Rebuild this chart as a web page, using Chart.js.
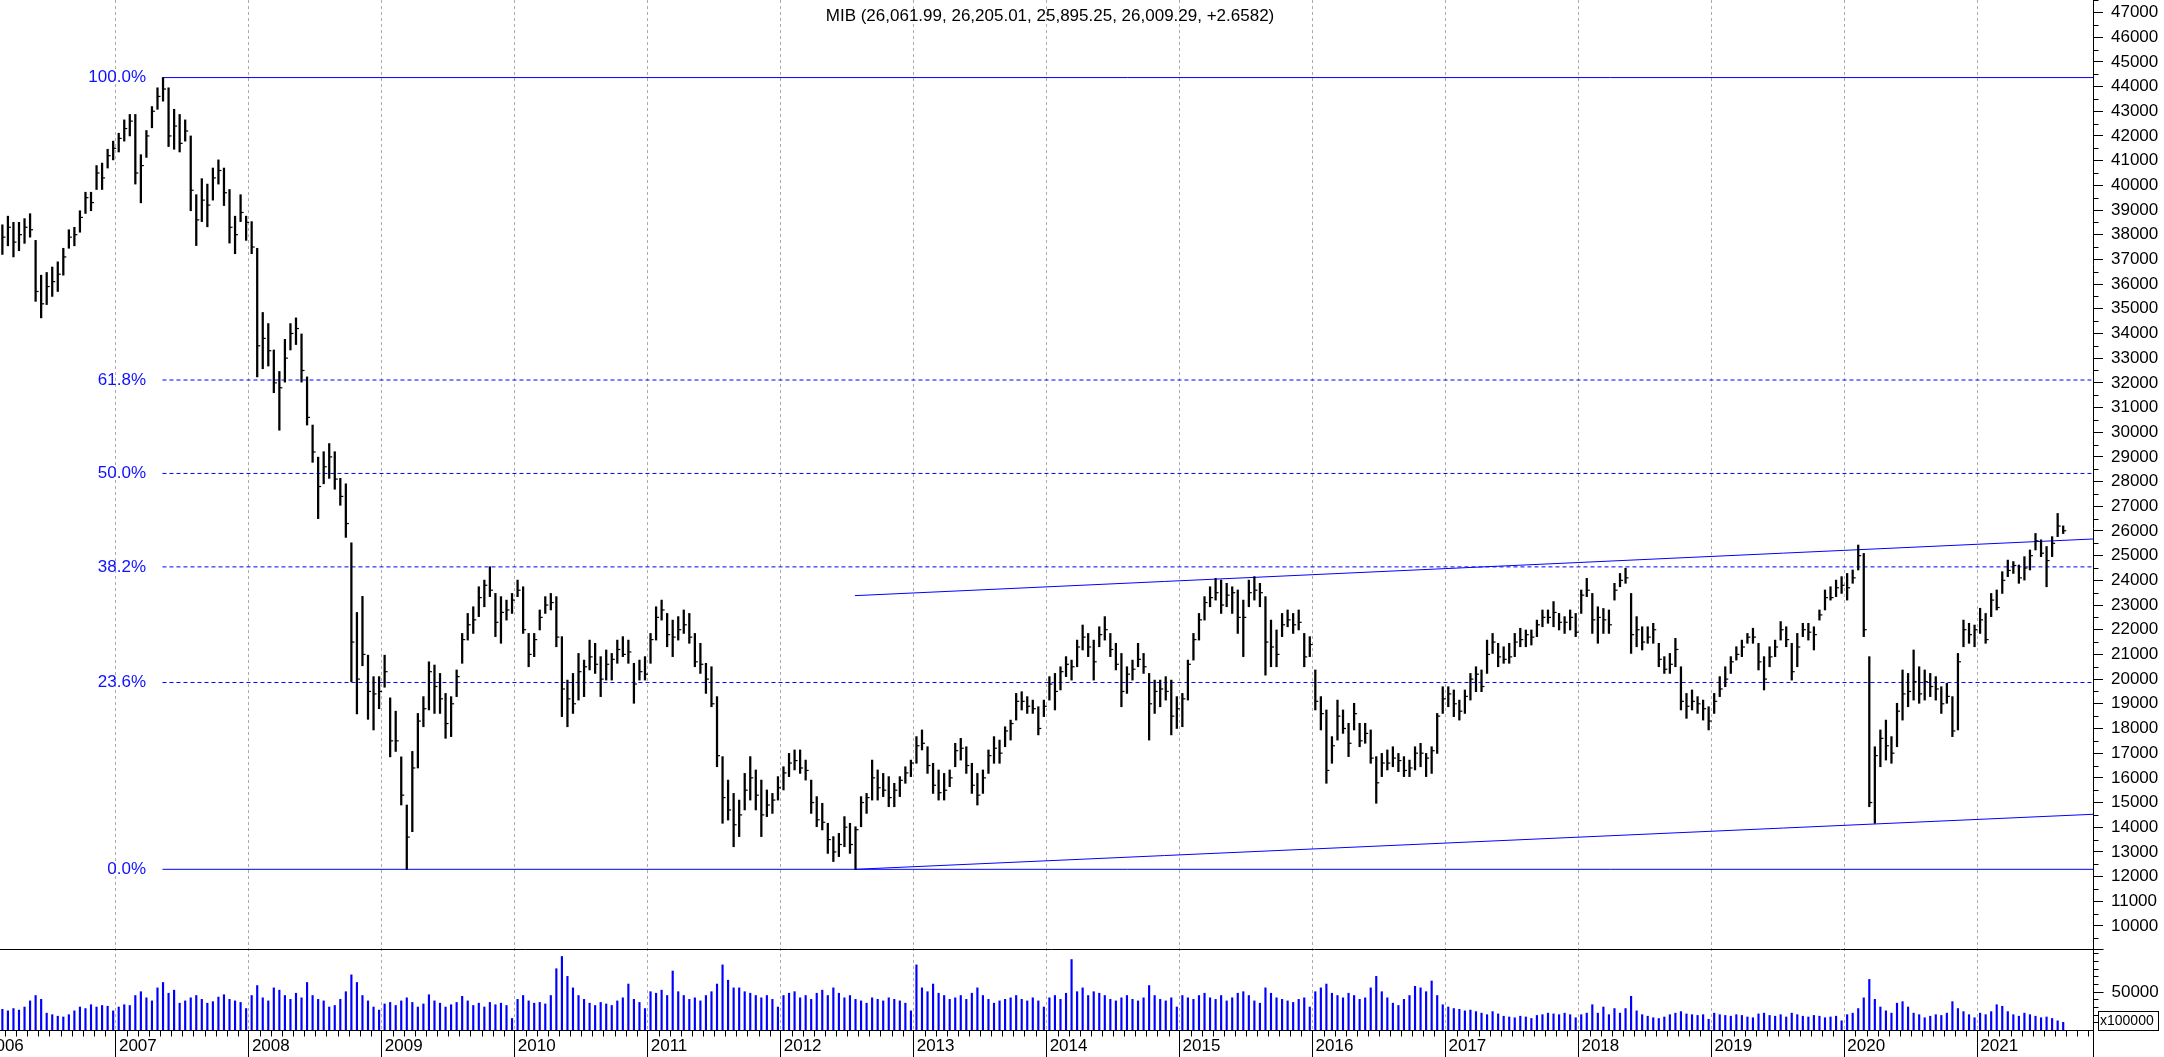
<!DOCTYPE html>
<html>
<head>
<meta charset="utf-8">
<title>MIB weekly</title>
<script src="https://cdn.jsdelivr.net/npm/chart.js@4.4.1/dist/chart.umd.min.js"></script>
<style>
  html, body { margin: 0; padding: 0; background: #fff; overflow: hidden; }
  canvas { display: block; }
</style>
</head>
<body>
<canvas id="chart" width="2164" height="1057"></canvas>
<script>
// MIB price bars, one bar per half month, starting with the 2nd half of Feb 2006
const highs = [
  38400,38750,38500,38500,38650,38850,37770,36360,36470,36690,36900,37450,38200,38300,38970,39720,39720,40800,40900,41460,41790, // 2006
  42110,42650,42870,42870,41240,42220,43190,43950,44364,43950,43080,42870,42650,42000,39620,40270,40050,40700,41030,40700,39830,38750,39620,38750, // 2007
  38530,37450,34850,34400,33330,32460,33760,34400,34630,33980,32240,30290,28990,29210,29540,29210,28130,27910,25520,22700,23350,20970,20100,20100, // 2008
  20970,19240,18700,16850,14900,17070,18610,19290,20700,20570,20230,19420,19290,20370,21850,22660,22930,23740,24010,24550,23470,23340,23200,23470, // 2009
  24010,23740,21850,21850,22800,23340,23470,23340,21720,19960,20230,21040,20770,21580,21450,20910,21180,21040,21580,21720,21580,20640,20770,20910, // 2010
  21850,22930,23200,22660,22390,22530,22800,22660,21850,21450,20640,20500,19290,16860,15910,15370,15100,16180,16860,16320,15910,15510,15370,16050, // 2011
  16450,16990,17130,17130,16720,15910,15240,14970,14160,13620,13750,14430,14160,14020,15240,15370,16720,16320,16180,16050,15780,16050,16450,16720, // 2012
  17670,17940,17260,16590,16320,16180,16320,17400,17600,17260,16590,16180,16320,17130,17670,17530,18070,18340,19420,19490,19290,19150,18880,19150, // 2013
  20100,20230,20500,20910,20770,21580,22190,21850,21580,22120,22530,21850,21450,21040,20500,20770,21450,21040,20230,19960,19960,20100,19960,19290, // 2014
  19420,20770,21850,22660,23340,23740,24080,24010,23880,23740,23610,23200,24010,24150,23880,23340,22390,21990,22660,22800,22660,22800,21850,21720, // 2015
  20370,19290,18750,17670,19150,18750,18210,19020,18210,18210,17940,16860,16990,17130,17260,16990,16860,16720,17260,17400,16990,17260,18610,19690, // 2016
  19690,19560,19150,19560,20230,20500,20370,21580,21850,21450,21310,21450,21850,22060,21990,21990,22390,22800,22800,23140,22660,22530,22800,22660, // 2017
  23610,24080,23470,22930,22860,22800,23880,24280,24490,23470,22530,22120,22120,22260,21450,20910,21040,21650,20500,19420,19560,19290,19150,18880, // 2018
  19420,20100,20500,20910,21310,21580,21850,22060,21450,20910,21310,21580,22330,22120,21450,21850,22260,22260,22120,22800,23610,23740,24010,24150, // 2019
  24280,24420,25430,25090,20910,17260,17940,18340,17670,19020,20370,20230,21180,20500,20370,20230,20100,19690,19830,19290,21040,22390,22260,22190, // 2020
  22870,22660,23470,23610,24350,24820,24760,24620,24960,25230,25900,25640,25370,25770,26710,26205 // 2021
];
const lows = [
  37200,37550,37100,37350,37650,37900,35300,34630,35170,35500,35700,36360,37450,37550,38100,38860,38970,39830,39830,40700,41030,
  41350,41790,42000,40050,39290,41130,42330,43080,43410,41570,41460,41350,41790,38970,37560,38530,38320,39400,40050,39180,37660,37230,38530,37770,
  37230,32240,32570,32680,31600,30080,32030,33330,33550,32030,30290,28780,26500,27910,28130,27690,27040,25740,19890,18590,20540,18370,17940,18800,
  19670,16850,17070,14900,12295,13820,16400,18070,18750,18610,18610,17600,17670,19290,20640,21580,21850,22530,22930,23340,21720,21450,22390,22660,
  23340,21850,20500,20910,21990,22660,22800,21310,18480,18070,18610,19150,19290,20370,20230,19290,19960,19960,20640,20910,20640,19020,19960,19960,
  20640,21580,22390,21310,20910,21580,21850,21450,20500,20230,19420,18880,16450,14160,14290,13210,13620,14700,15100,14700,13620,14430,14560,15100,
  15510,16050,16320,16180,15910,14560,14020,13890,12940,12610,12810,13210,12940,12295,14020,14560,15100,15100,15240,14830,14830,15240,15780,16050,
  16590,17130,16180,15370,15100,15100,15640,16450,16720,16180,15370,14900,15370,16180,16590,16590,17260,17530,18340,18750,18610,18610,17740,18480,
  19150,18750,19560,20100,19960,20500,21180,20910,19960,21310,21580,20910,20370,18880,19420,19960,20500,20230,17530,18610,18880,19150,17740,18000,
  18070,19150,20770,21580,22390,22930,23200,22660,22930,22660,21850,20910,22930,23200,22930,20160,20500,20500,21720,22120,21850,21990,20500,20910,
  18750,17940,15780,16590,17530,17800,16860,17940,17260,17400,16590,14970,16050,16320,16450,16250,16050,16050,16320,16450,16050,16180,16990,18610,
  18880,18480,18340,18610,19150,19490,19490,20230,21040,20500,20640,20640,20910,21310,21310,21380,21720,22120,22260,22120,21990,21850,21990,21720,
  22660,23340,21850,21450,21850,21850,23200,23740,23880,21040,21310,21180,21450,21450,20500,20230,20230,20500,18750,18410,18750,18610,18340,17940,
  18610,19290,19690,20230,20770,20910,21450,21450,20370,19560,20500,20910,21580,21310,19960,20500,21720,21580,21180,22390,22800,23200,23340,23470,
  23200,23880,24420,21720,14830,14160,16450,16720,16590,17260,18340,18880,19150,19020,19150,19290,19150,18610,19020,17670,17940,21310,21450,21310,
  21850,21450,22530,22800,23470,24150,24280,23880,24010,24420,25230,24960,23740,24960,25770,25895
];
const closes = [
  37900,38300,37700,38000,38300,38200,35700,35200,35900,36100,36400,37100,37900,38000,38700,39500,39300,40500,40300,41200,41500,
  41900,42300,42600,40500,40800,42000,43000,43600,43900,42000,42400,41700,42200,39800,38600,39400,39200,40300,40600,39700,38300,38000,38900,38500,
  37500,33500,33800,33300,32000,31800,33000,34000,34200,32500,30600,29200,27800,28600,29000,28100,27400,26300,21500,20000,21000,19500,19400,19500,
  20300,17500,17500,15300,13600,16400,18300,18800,20300,19700,19200,18200,19000,20100,21600,22200,22400,23300,23800,23600,22300,22700,22800,23200,
  23600,22000,21000,21600,22500,23000,23100,21700,19600,19200,19000,20300,20500,20900,20600,20000,20600,20800,21200,21000,21100,19800,20300,20200,
  21600,22500,22800,21800,21700,22000,22200,21700,20700,20600,20000,19000,16900,15200,14700,14100,14500,15500,16000,15300,14500,14900,15100,15600,
  16200,16600,16700,16400,16300,15000,14300,14200,13500,13000,13300,14000,13300,13900,15000,15200,16000,15600,15500,15200,15500,15900,16200,16600,
  17300,17400,16500,15700,15400,15500,16000,17100,17200,16500,15700,15300,16000,16900,17200,17000,17900,18200,19100,19100,18900,18800,18000,18900,
  19800,19500,20300,20600,20500,21300,21700,21300,20700,21800,22000,21200,20600,19500,20200,20400,20800,20500,19000,19500,19600,19500,18500,18800,
  19200,20600,21600,22400,23100,23300,23500,23000,23400,23500,22500,22500,23500,23600,23500,21500,21300,21000,22200,22400,22200,22300,20900,21400,
  19100,18600,16300,17300,18500,18000,17400,18600,17500,17800,16800,15800,16600,16600,16800,16700,16300,16400,17000,17000,16800,17100,18500,19200,
  19400,19000,18700,19300,20000,20200,19700,21000,21500,20900,20800,20900,21500,21600,21800,21700,22200,22500,22500,22700,22300,22300,22500,21900,
  23400,23600,22400,22500,22400,22200,23600,24000,24100,21800,22000,21500,21700,22000,20800,20400,20600,21200,19100,18900,19100,19000,18800,18300,
  19100,19600,20000,20700,21000,21300,21700,21700,20700,20000,20900,21300,22000,21600,20300,21300,22000,21900,21800,22600,23300,23300,23700,23800,
  23700,24100,25000,22000,15000,16900,17600,17300,17000,18700,19400,19500,19900,19400,19900,19700,19600,19000,19300,17900,20700,22000,21800,22000,
  22400,21600,23200,22900,24000,24400,24600,24100,24500,25000,25600,25100,24800,25500,26200,26009
];
// volume (x100000), same half-month periods
const volumes = [
  27000,25000,28000,26000,30000,38000,45000,40000,22000,20000,18000,17000,20000,25000,30000,28000,33000,30000,32000,31000,25000,
  30000,33000,32000,45000,50000,42000,38000,55000,62000,48000,52000,35000,38000,42000,45000,40000,35000,37000,43000,46000,40000,38000,36000,28000,
  45000,58000,42000,38000,55000,52000,45000,40000,48000,42000,62000,45000,40000,38000,30000,32000,40000,50000,72000,62000,45000,38000,30000,26000,
  34000,36000,32000,38000,42000,36000,30000,34000,46000,38000,35000,30000,33000,36000,44000,38000,32000,35000,30000,36000,33000,35000,32000,15000,
  40000,45000,38000,35000,36000,34000,45000,80000,96000,70000,55000,45000,40000,35000,32000,36000,34000,32000,38000,42000,60000,40000,36000,28000,
  50000,48000,52000,45000,77000,50000,45000,40000,42000,38000,45000,50000,60000,85000,65000,55000,55000,50000,48000,45000,42000,45000,40000,30000,
  45000,48000,50000,42000,45000,40000,48000,52000,45000,55000,48000,42000,45000,40000,38000,35000,42000,40000,38000,42000,40000,38000,35000,25000,
  85000,55000,50000,60000,48000,45000,40000,42000,45000,40000,48000,55000,45000,40000,35000,38000,40000,42000,45000,40000,38000,42000,38000,30000,
  42000,45000,40000,48000,92000,50000,55000,45000,50000,48000,45000,40000,38000,42000,45000,40000,38000,42000,58000,45000,40000,38000,42000,30000,
  45000,42000,40000,45000,48000,42000,40000,45000,38000,42000,48000,50000,45000,38000,35000,55000,48000,42000,40000,38000,36000,40000,42000,30000,
  50000,55000,60000,48000,45000,42000,48000,45000,40000,42000,55000,70000,50000,42000,35000,32000,40000,45000,57000,55000,50000,64000,45000,33000,
  30000,28000,27000,25000,26000,24000,22000,20000,24000,21000,18000,17000,16000,18000,17000,15000,19000,20000,22000,21000,20000,22000,20000,16000,
  20000,22000,33000,22000,30000,20000,28000,22000,28000,44000,25000,20000,18000,16000,15000,17000,20000,22000,24000,21000,20000,19000,20000,14000,
  22000,20000,19000,18000,20000,19000,17000,16000,21000,22000,19000,18000,20000,17000,22000,20000,18000,17000,19000,18000,16000,17000,18000,12000,
  20000,22000,28000,42000,66000,40000,30000,25000,22000,35000,37000,30000,22000,20000,16000,18000,20000,19000,22000,37000,28000,24000,20000,16000,
  22000,20000,24000,33000,31000,24000,20000,18000,22000,20000,18000,16000,17000,15000,12000,10000
];

// Fibonacci retracement between the 2007 top and the 2009 bottom
const fibHigh = 44364;
const fibLow = 12295;
const fibRatios = [1, 0.618, 0.5, 0.382, 0.236, 0];
const fibLabels = ['100.0%', '61.8%', '50.0%', '38.2%', '23.6%', '0.0%'];
const fibStart = 2007.35;

// channel drawn from the July 2012 low
const upperTrend = [{ x: 2012.558, y: 23380 }, { x: 2021.87, y: 25675 }];
const lowerTrend = [{ x: 2012.558, y: 12295 }, { x: 2021.87, y: 14524 }];

const yearTicks = [2006,2007,2008,2009,2010,2011,2012,2013,2014,2015,2016,2017,2018,2019,2020,2021];
const titleText = 'MIB (26,061.99, 26,205.01, 25,895.25, 26,009.29, +2.6582)';

// axis ranges (picked so the panels line up with the picture)
const X_MIN = 2006.128, X_MAX = 2021.87;
const P_MIN = 5787, P_MAX = 47506;
const V_MAX = 1344700;
const PANEL_SPLIT = 9070;
const FONT = "'Liberation Sans', Arial, sans-serif";

// half-month period centres
const periods = [];
for (let yr = 2006; periods.length < highs.length; yr++) {
  for (let m = 0; m < 12; m++) {
    for (let h = 0; h < 2; h++) {
      if (yr === 2006 && (m === 0 || (m === 1 && h === 0))) continue;
      if (periods.length < highs.length) periods.push(yr + m / 12 + h / 24 + 1 / 48);
    }
  }
}

const priceMajor = [];
for (let v = 10000; v <= 47000; v += 1000) priceMajor.push(v);
const priceMinor = [];
for (let v = 9500; v <= 47500; v += 1000) priceMinor.push(v);
const volMinor = [10000, 20000, 30000, 40000, 60000, 70000, 80000, 90000, 100000];

const rangeData = periods.map((t, i) => ({ x: t, y: [lows[i], highs[i]] }));
const closeData = periods.map((t, i) => ({ x: t, y: closes[i] }));
const volData = periods.map((t, i) => ({ x: t, y: volumes[i] }));

const hline = (v) => [{ x: fibStart, y: v }, { x: X_MAX, y: v }];
const fibLevels = fibRatios.map(r => fibLow + r * (fibHigh - fibLow));

const fibSets = fibLevels.map((lvl, i) => ({
  type: 'line',
  data: hline(lvl),
  yAxisID: 'y',
  borderColor: '#0000ff',
  borderWidth: 1,
  borderDash: (fibRatios[i] === 1 || fibRatios[i] === 0) ? [] : [4, 3],
  pointRadius: 0,
  order: 5
}));

const decor = {
  id: 'decor',
  afterDraw(chart) {
    const { ctx } = chart;
    const x = chart.scales.x, y = chart.scales.y, yv = chart.scales.yv;
    const ax = Math.round(chart.chartArea.right) + 0.5;
    const axisY = Math.round(chart.chartArea.bottom) + 0.5;
    const seg = (x1, y1, x2, y2) => { ctx.beginPath(); ctx.moveTo(x1, y1); ctx.lineTo(x2, y2); ctx.stroke(); };
    ctx.save();
    ctx.strokeStyle = '#000';
    ctx.lineWidth = 1;
    ctx.setLineDash([]);

    // right axis line and panel separator
    seg(ax, 0, ax, chart.height);
    const sepY = Math.round(y.getPixelForValue(PANEL_SPLIT)) + 0.5;
    seg(0, sepY, ax + 10, sepY);

    // minor price ticks
    priceMinor.forEach(v => {
      const py = Math.round(y.getPixelForValue(v)) + 0.5;
      seg(ax, py, ax + 5, py);
    });

    // volume ticks
    volMinor.forEach(v => {
      const py = Math.round(yv.getPixelForValue(v)) + 0.5;
      seg(ax, py, ax + 5, py);
    });
    const p50 = Math.round(yv.getPixelForValue(50000)) + 0.5;
    seg(ax, p50, ax + 10, p50);
    ctx.fillStyle = '#000';
    ctx.font = '17px ' + FONT;
    ctx.textBaseline = 'middle';
    ctx.textAlign = 'left';
    ctx.fillText('50000', ax + 18, p50);

    // month ticks on the time axis
    for (let yr = 2006; yr <= 2021; yr++) {
      for (let m = 1; m < 12; m++) {
        const t = yr + m / 12;
        if (t < X_MIN || t > X_MAX) continue;
        const px = Math.round(x.getPixelForValue(t)) + 0.5;
        seg(px, axisY, px, axisY + 6);
      }
    }

    // x100000 box
    ctx.fillStyle = '#fff';
    ctx.fillRect(2098, 1011, 60, 19);
    ctx.strokeRect(2098.5, 1011.5, 60, 19);
    ctx.fillStyle = '#000';
    ctx.font = '14px ' + FONT;
    ctx.fillText('x100000', 2100, 1021.5);

    // fib labels
    ctx.fillStyle = '#1010ff';
    ctx.font = '17px ' + FONT;
    ctx.textAlign = 'right';
    fibLevels.forEach((lvl, i) => {
      ctx.fillText(fibLabels[i], 146, y.getPixelForValue(lvl));
    });

    // title
    ctx.fillStyle = '#000';
    ctx.textAlign = 'center';
    ctx.fillText(titleText, 1050, 16);
    ctx.restore();
  }
};

new Chart(document.getElementById('chart'), {
  type: 'bar',
  data: {
    datasets: [
      {
        type: 'bar', data: rangeData, yAxisID: 'y',
        backgroundColor: '#000', borderWidth: 0, barThickness: 1.6, grouped: false, order: 0
      },
      {
        type: 'line', data: closeData, yAxisID: 'y', showLine: false,
        pointStyle: 'dash', pointRadius: 3, pointBorderColor: '#000', pointBorderWidth: 1.2,
        pointHoverRadius: 3, order: 1
      },
      {
        type: 'bar', data: volData, yAxisID: 'yv',
        backgroundColor: '#0000ff', borderWidth: 0, barThickness: 1.5, grouped: false, order: 2
      },
      ...fibSets,
      {
        type: 'line', data: upperTrend, yAxisID: 'y', borderColor: '#0000ff',
        borderWidth: 1, pointRadius: 0, order: 6
      },
      {
        type: 'line', data: lowerTrend, yAxisID: 'y', borderColor: '#0000ff',
        borderWidth: 1, pointRadius: 0, order: 6
      }
    ]
  },
  options: {
    responsive: false,
    animation: false,
    events: [],
    layout: { padding: 0, autoPadding: false },
    plugins: { legend: { display: false }, tooltip: { enabled: false }, title: { display: false } },
    scales: {
      x: {
        type: 'linear', min: X_MIN, max: X_MAX, bounds: 'data', offset: false,
        afterBuildTicks: s => { s.ticks = yearTicks.map(v => ({ value: v })); },
        afterFit: s => { s.height = 27; s.paddingLeft = 0; s.paddingRight = 0; },
        grid: { offset: false, color: '#ababab', lineWidth: 1, drawTicks: true, tickLength: 27, tickColor: '#000', tickBorderDash: [] },
        border: { display: true, color: '#000', width: 1, dash: [3, 3] },
        ticks: {
          autoSkip: false, maxRotation: 0, minRotation: 0, align: 'start', labelOffset: 3, padding: -21,
          color: '#000', font: { family: FONT, size: 17 }, callback: v => String(v)
        }
      },
      y: {
        position: 'right', min: P_MIN, max: P_MAX, bounds: 'data',
        afterBuildTicks: s => { s.ticks = priceMajor.map(v => ({ value: v })); },
        afterFit: s => { s.width = 71; s.paddingTop = 0; s.paddingBottom = 0; },
        grid: { drawOnChartArea: false, drawTicks: true, tickLength: 10, tickColor: '#000' },
        border: { display: false },
        ticks: { autoSkip: false, padding: 8, color: '#000', font: { family: FONT, size: 17 }, callback: v => String(v) }
      },
      yv: { display: false, min: 0, max: V_MAX, bounds: 'data' }
    }
  },
  plugins: [decor]
});
</script>
</body>
</html>
